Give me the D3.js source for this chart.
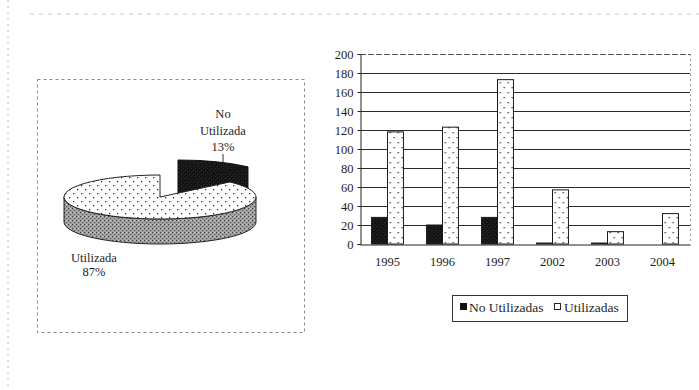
<!DOCTYPE html>
<html>
<head>
<meta charset="utf-8">
<script src="https://cdn.jsdelivr.net/npm/d3@7"></script>
<style>
  html, body { margin: 0; padding: 0; background: #fff; }
  svg { display: block; }
  text { font-family: "Liberation Serif", "Times New Roman", serif; fill: #1e1e1e; }
</style>
</head>
<body>
<svg id="chart" width="699" height="390"></svg>
<script>
// Bar chart data (uso por año)
const years = ["1995", "1996", "1997", "2002", "2003", "2004"];
const noUtilizadas = [28, 20, 28, 1, 1, 0];
const utilizadas = [118, 123, 173, 57, 13, 32];
const yTicks = [0, 20, 40, 60, 80, 100, 120, 140, 160, 180, 200];
const seriesNames = ["No Utilizadas", "Utilizadas"];

// Pie chart data (porcentaje total)
const pieNames = ["No Utilizada", "Utilizada"];
const pieValues = [13, 87];

const svg = d3.select("#chart");
const defs = svg.append("defs");

// Fill patterns
const dots = defs.append("pattern").attr("id", "dots")
  .attr("patternUnits", "userSpaceOnUse").attr("width", 8).attr("height", 8);
dots.append("rect").attr("width", 8).attr("height", 8).attr("fill", "#fff");
dots.append("rect").attr("x", 1).attr("y", 1).attr("width", 1.3).attr("height", 1.3).attr("fill", "#333");
dots.append("rect").attr("x", 5).attr("y", 5).attr("width", 1.3).attr("height", 1.3).attr("fill", "#333");

const barDots = defs.append("pattern").attr("id", "barDots")
  .attr("patternUnits", "userSpaceOnUse").attr("width", 8).attr("height", 10);
barDots.append("rect").attr("width", 8).attr("height", 10).attr("fill", "#fff");
barDots.append("rect").attr("x", 2).attr("y", 2).attr("width", 1.3).attr("height", 1.3).attr("fill", "#333");
barDots.append("rect").attr("x", 6).attr("y", 7).attr("width", 1.3).attr("height", 1.3).attr("fill", "#333");

const grain = defs.append("pattern").attr("id", "grain")
  .attr("patternUnits", "userSpaceOnUse").attr("width", 4).attr("height", 4);
grain.append("rect").attr("width", 4).attr("height", 4).attr("fill", "#a4a4a4");
grain.append("rect").attr("x", 0).attr("y", 0).attr("width", 1.2).attr("height", 1.2).attr("fill", "#3c3c3c");
grain.append("rect").attr("x", 2).attr("y", 2).attr("width", 1.2).attr("height", 1.2).attr("fill", "#5a5a5a");
grain.append("rect").attr("x", 2).attr("y", 0).attr("width", 1).attr("height", 1).attr("fill", "#d0d0d0");

const darkGrain = defs.append("pattern").attr("id", "darkGrain")
  .attr("patternUnits", "userSpaceOnUse").attr("width", 4).attr("height", 4);
darkGrain.append("rect").attr("width", 4).attr("height", 4).attr("fill", "#141414");
darkGrain.append("rect").attr("x", 1).attr("y", 2).attr("width", 1).attr("height", 1).attr("fill", "#3a3a3a");
darkGrain.append("rect").attr("x", 3).attr("y", 0).attr("width", 1).attr("height", 1).attr("fill", "#2c2c2c");

// Page decoration: faint scan rule lines
svg.append("line").attr("x1", 8).attr("x2", 8).attr("y1", 0).attr("y2", 390)
  .attr("stroke", "#b8b8b8").attr("stroke-dasharray", "2,4");
svg.append("line").attr("x1", 30).attr("x2", 699).attr("y1", 14).attr("y2", 14)
  .attr("stroke", "#c8c8c8").attr("stroke-width", 1.2).attr("stroke-dasharray", "4,5");

// ---------- Pie chart (3D look) ----------
svg.append("rect").attr("x", 37.5).attr("y", 79.5).attr("width", 267).attr("height", 253)
  .attr("fill", "none").attr("stroke", "#8a8a8a").attr("stroke-dasharray", "3,3");

const pie = d3.pie().sort(null).startAngle(0).endAngle(2 * Math.PI);
const arcs = pie(pieValues);

const cx = 160, cy = 197, rx = 96, ry = 22, depth = 25;
const explode = [18, -15];
const pt = (c, a) => [c[0] + rx * Math.sin(a), c[1] - ry * Math.cos(a)];
const down = p => [p[0], p[1] + depth];
const center = [cx, cy];
const bCenter = [cx + explode[0], cy + explode[1]];

function sector(c, a0, a1) {
  const p0 = pt(c, a0), p1 = pt(c, a1);
  const large = (a1 - a0) > Math.PI ? 1 : 0;
  return `M${c[0]},${c[1]}L${p0[0]},${p0[1]}A${rx},${ry} 0 ${large} 1 ${p1[0]},${p1[1]}Z`;
}

const pieG = svg.append("g");
const uArc = arcs[1], nArc = arcs[0];

// front wall of the large slice
{
  const a = Math.PI / 2, b = 3 * Math.PI / 2;
  const p0 = pt(center, a), p1 = pt(center, b);
  const q0 = down(p0), q1 = down(p1);
  pieG.append("path")
    .attr("d", `M${p0}A${rx},${ry} 0 0 1 ${p1}L${q1}A${rx},${ry} 0 0 0 ${q0}Z`)
    .attr("fill", "url(#grain)").attr("stroke", "#222").attr("stroke-width", 1);
}

// exploded small slice: cut face and top
{
  const p1 = pt(bCenter, nArc.endAngle);
  pieG.append("path")
    .attr("d", `M${bCenter}L${p1}L${down(p1)}L${down(bCenter)}Z`)
    .attr("fill", "url(#darkGrain)").attr("stroke", "#111");
  pieG.append("path")
    .attr("d", sector(bCenter, nArc.startAngle, nArc.endAngle))
    .attr("fill", "url(#darkGrain)").attr("stroke", "#111");
}

// top of the large slice
pieG.append("path")
  .attr("d", sector(center, uArc.startAngle, uArc.endAngle))
  .attr("fill", "url(#dots)").attr("stroke", "#222").attr("stroke-width", 1);

// pie labels
const noLbl = pieG.append("text").attr("text-anchor", "middle").attr("font-size", 12.5);
noLbl.append("tspan").attr("x", 223).attr("y", 118).text("No");
noLbl.append("tspan").attr("x", 223).attr("y", 135).text(pieNames[0].replace("No ", ""));
noLbl.append("tspan").attr("x", 223).attr("y", 151).text(pieValues[0] + "%");
pieG.append("line").attr("x1", 223).attr("x2", 223).attr("y1", 154).attr("y2", 162)
  .attr("stroke", "#333");

const uLbl = pieG.append("text").attr("text-anchor", "middle").attr("font-size", 12.5);
uLbl.append("tspan").attr("x", 94).attr("y", 262).text(pieNames[1]);
uLbl.append("tspan").attr("x", 94).attr("y", 276).text(pieValues[1] + "%");

// ---------- Bar chart ----------
const plot = { left: 360, right: 690, top: 54, bottom: 244 };
const x = d3.scaleBand().domain(years).range([plot.left, plot.right])
  .paddingInner(0.42).paddingOuter(0.21);
const xs = d3.scaleBand().domain(seriesNames).range([0, x.bandwidth()]);
const y = d3.scaleLinear().domain([0, 200]).range([plot.bottom, plot.top]);

const barG = svg.append("g");

// horizontal grid
barG.append("g").selectAll("line").data(yTicks.filter(t => t > 0)).join("line")
  .attr("x1", plot.left).attr("x2", plot.right)
  .attr("y1", d => Math.round(y(d)) + 0.5).attr("y2", d => Math.round(y(d)) + 0.5)
  .attr("stroke", d => d === 200 ? "#555" : "#2a2a2a")
  .attr("stroke-width", 1.1)
  .attr("stroke-dasharray", d => d === 200 ? "6,2" : null);

// right edge of plot area
barG.append("line").attr("x1", plot.right + 0.5).attr("x2", plot.right + 0.5)
  .attr("y1", plot.top).attr("y2", plot.bottom)
  .attr("stroke", "#999").attr("stroke-dasharray", "2,3");

// y axis
const yAxis = barG.append("g").attr("transform", `translate(${plot.left + 0.5},0)`)
  .call(d3.axisLeft(y).tickValues(yTicks).tickSize(3).tickPadding(4));
yAxis.select(".domain").attr("stroke", "#222");
yAxis.selectAll(".tick line").attr("stroke", "#222");
yAxis.selectAll("text").attr("font-size", 12.5)
  .attr("font-family", "Liberation Serif, serif").attr("fill", "#1e1e1e");

// bars
const groups = barG.append("g").selectAll("g").data(years).join("g")
  .attr("transform", d => `translate(${x(d)},0)`);
const seriesData = [noUtilizadas, utilizadas];
groups.selectAll("rect")
  .data((d, i) => seriesNames.map((s, k) => ({ s, v: seriesData[k][i] })))
  .join("rect")
  .attr("x", d => xs(d.s))
  .attr("y", d => y(d.v))
  .attr("width", xs.bandwidth())
  .attr("height", d => y(0) - y(d.v))
  .attr("fill", d => d.s === seriesNames[0] ? "url(#darkGrain)" : "url(#barDots)")
  .attr("stroke", "#1a1a1a").attr("stroke-width", 1);

// x axis
const xAxis = barG.append("g").attr("transform", `translate(0,${plot.bottom + 0.5})`)
  .call(d3.axisBottom(x).tickSize(0).tickPadding(13));
xAxis.select(".domain").attr("stroke", "#222").attr("stroke-width", 1.2);
xAxis.selectAll("text").attr("font-size", 12.5)
  .attr("font-family", "Liberation Serif, serif").attr("fill", "#1e1e1e");

// legend
const lg = svg.append("g");
lg.append("rect").attr("x", 452.5).attr("y", 295.5).attr("width", 175).attr("height", 26)
  .attr("fill", "#fff").attr("stroke", "#333");
lg.append("rect").attr("x", 460).attr("y", 303).attr("width", 7).attr("height", 7).attr("fill", "#111");
lg.append("text").attr("x", 469).attr("y", 312).attr("font-size", 13.5).text(seriesNames[0]);
lg.append("rect").attr("x", 554.5).attr("y", 303.5).attr("width", 6).attr("height", 6)
  .attr("fill", "#fff").attr("stroke", "#222");
lg.append("text").attr("x", 564).attr("y", 312).attr("font-size", 13.5).text(seriesNames[1]);
</script>
</body>
</html>
